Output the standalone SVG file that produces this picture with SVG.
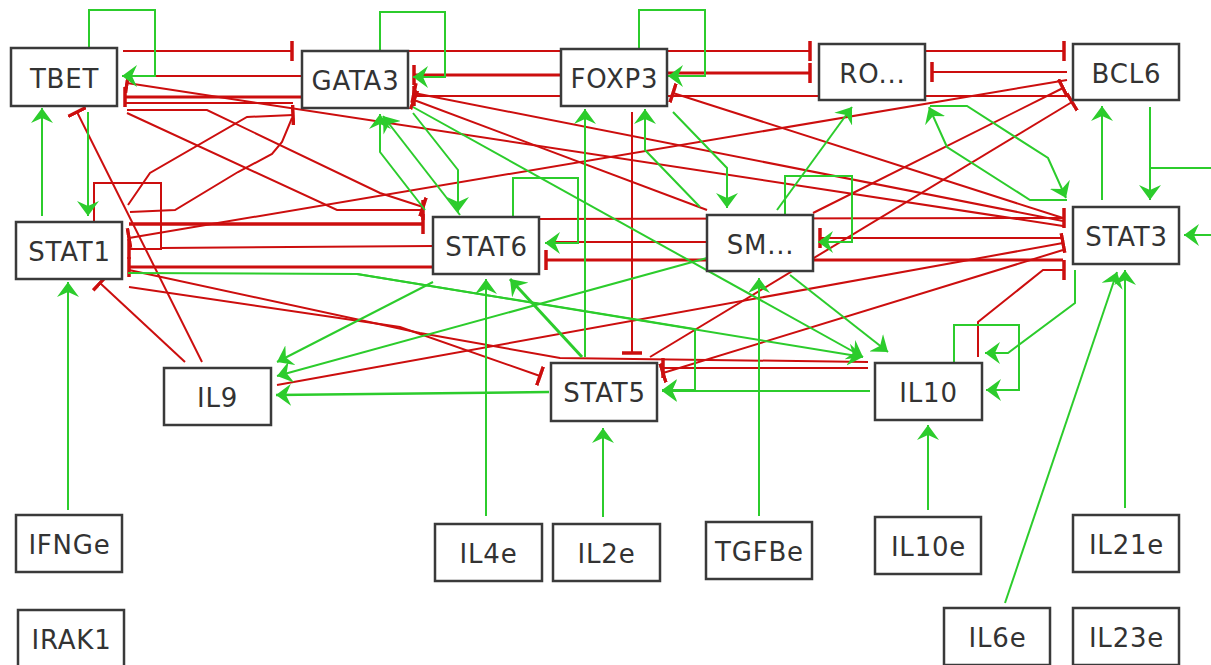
<svg xmlns="http://www.w3.org/2000/svg" width="1211" height="665" viewBox="0 0 1211 665">
<style>
.r{fill:none;stroke:#cc0e0e;stroke-width:2}
.g{fill:none;stroke:#2ccc2c;stroke-width:2}
.n rect{fill:#fff;stroke:#3a3a3a;stroke-width:2.5}
.n text{font-family:"DejaVu Sans",sans-serif;font-size:26px;letter-spacing:0.8px;fill:#333;text-anchor:middle}
</style>
<defs>
<marker id="a" viewBox="0 0 15 22" refX="15" refY="11" markerWidth="15" markerHeight="22" markerUnits="userSpaceOnUse" orient="auto">
<path d="M0,0 L15,11 L0,22 L5,11 z" fill="#2ccc2c"/>
</marker>
<marker id="t" viewBox="0 0 4 20" refX="2" refY="10" markerWidth="4" markerHeight="20" markerUnits="userSpaceOnUse" orient="auto">
<path d="M2,0 V20" stroke="#cc0e0e" stroke-width="3.5"/>
</marker>
</defs>
<rect width="1211" height="665" fill="#fff"/>
<g id="connectors">
<polyline class="r" points="123,51 292,51" marker-end="url(#t)"/>
<polyline class="r" points="408,51 561,51"/>
<polyline class="r" points="667,51 810,51" marker-end="url(#t)"/>
<polyline class="r" points="925,51 1064,51" marker-end="url(#t)"/>
<polyline class="r" points="561,75 414,75" marker-end="url(#t)" style="stroke-width:3"/>
<polyline class="r" points="302,76 125,76"/>
<polyline class="r" points="667,73 810,73" marker-end="url(#t)" style="stroke-width:3"/>
<polyline class="r" points="1067,72 932,72" marker-end="url(#t)"/>
<polyline class="r" points="1067,96 414,96" marker-end="url(#t)"/>
<polyline class="r" points="302,97 125,97" marker-end="url(#t)" style="stroke-width:3"/>
<polyline class="r" points="125,103 293,103"/>
<polyline class="r" points="128,205 150,173 247,117 293,115" marker-end="url(#t)"/>
<polyline class="r" points="130,212 175,210 238,172 272,154 282,142 292,118"/>
<polyline class="r" points="127,110 207,110 380,193 423,207" marker-end="url(#t)"/>
<polyline class="r" points="127,113 337,210 423,210" marker-end="url(#t)"/>
<polyline class="r" points="94,222 94,183 161,183 161,249 129,249" marker-end="url(#t)"/>
<polyline class="r" points="129,224 423,224" marker-end="url(#t)" style="stroke-width:3.5"/>
<polyline class="r" points="161,248 433,246"/>
<polyline class="r" points="1067,80 129,238" marker-end="url(#t)"/>
<polyline class="r" points="433,267 129,267" marker-end="url(#t)" style="stroke-width:3"/>
<polyline class="r" points="129,287 400,327 540,376" marker-end="url(#t)"/>
<polyline class="r" points="868,362 560,358 420,333 129,270"/>
<polyline class="r" points="868,368 663,368" marker-end="url(#t)"/>
<polyline class="r" points="185,362 100,283" marker-end="url(#t)"/>
<polyline class="r" points="202,362 77,112" marker-end="url(#t)"/>
<polyline class="r" points="277,385 1063,243" marker-end="url(#t)"/>
<polyline class="r" points="632,112 632,353" marker-end="url(#t)"/>
<polyline class="r" points="650,357 1072,102" marker-end="url(#t)"/>
<polyline class="r" points="813,213 1063,88" marker-end="url(#t)"/>
<polyline class="r" points="1063,218 673,93" marker-end="url(#t)"/>
<polyline class="r" points="1063,221 414,93" marker-end="url(#t)"/>
<polyline class="r" points="1063,226 127,83" marker-end="url(#t)"/>
<polyline class="r" points="707,210 414,100" marker-end="url(#t)"/>
<polyline class="r" points="539,219 1064,218" marker-end="url(#t)"/>
<polyline class="r" points="1063,238 820,238" marker-end="url(#t)"/>
<polyline class="r" points="1063,260 546,260" marker-end="url(#t)" style="stroke-width:3"/>
<polyline class="r" points="707,242 547,242"/>
<polyline class="r" points="1063,250 663,373" marker-end="url(#t)"/>
<polyline class="r" points="978,357 978,322 1043,270 1064,270" marker-end="url(#t)"/>
<polyline class="g" points="89,48 89,10 155,10 155,76 122,76" marker-end="url(#a)"/>
<polyline class="g" points="380,51 380,12 445,12 445,77 413,77" marker-end="url(#a)"/>
<polyline class="g" points="639,49 639,10 705,10 705,76 668,76" marker-end="url(#a)"/>
<polyline class="g" points="88,112 88,216" marker-end="url(#a)"/>
<polyline class="g" points="42,216 42,108" marker-end="url(#a)"/>
<polyline class="g" points="68,510 68,282" marker-end="url(#a)"/>
<polyline class="g" points="460,215 383,116" marker-end="url(#a)"/>
<polyline class="g" points="425,210 380,152 380,114" marker-end="url(#a)"/>
<polyline class="g" points="413,113 458,170 458,212" marker-end="url(#a)"/>
<polyline class="g" points="413,107 863,357" marker-end="url(#a)"/>
<polyline class="g" points="513,217 513,178 578,178 578,243 545,243" marker-end="url(#a)"/>
<polyline class="g" points="582,357 510,279" marker-end="url(#a)" style="stroke-width:3"/>
<polyline class="g" points="486,516 486,279" marker-end="url(#a)"/>
<polyline class="g" points="585,357 585,109" marker-end="url(#a)"/>
<polyline class="g" points="700,207 645,150 645,109" marker-end="url(#a)"/>
<polyline class="g" points="673,112 727,168 727,208" marker-end="url(#a)"/>
<polyline class="g" points="777,210 852,107" marker-end="url(#a)"/>
<polyline class="g" points="785,215 785,176 852,176 852,242 818,242" marker-end="url(#a)"/>
<polyline class="g" points="759,516 759,278" marker-end="url(#a)"/>
<polyline class="g" points="433,282 277,362" marker-end="url(#a)"/>
<polyline class="g" points="707,258 277,376" marker-end="url(#a)"/>
<polyline class="g" points="549,392 276,395" marker-end="url(#a)" style="stroke-width:2.5"/>
<polyline class="g" points="128,273 357,274 863,357" marker-end="url(#a)"/>
<polyline class="g" points="357,274 695,329 695,390 662,390" marker-end="url(#a)"/>
<polyline class="g" points="870,391 662,391" marker-end="url(#a)"/>
<polyline class="g" points="790,275 888,352" marker-end="url(#a)"/>
<polyline class="g" points="603,517 603,428" marker-end="url(#a)"/>
<polyline class="g" points="928,510 928,425" marker-end="url(#a)"/>
<polyline class="g" points="1125,508 1125,270" marker-end="url(#a)"/>
<polyline class="g" points="1005,603 1117,272" marker-end="url(#a)"/>
<polyline class="g" points="1102,200 1102,106" marker-end="url(#a)"/>
<polyline class="g" points="1150,107 1150,200" marker-end="url(#a)"/>
<polyline class="g" points="1211,168 1150,168"/>
<polyline class="g" points="1211,235 1184,235" marker-end="url(#a)"/>
<polyline class="g" points="1075,270 1075,303 1008,353 985,353" marker-end="url(#a)"/>
<polyline class="g" points="954,362 954,325 1019,325 1019,390 986,390" marker-end="url(#a)"/>
<polyline class="g" points="1067,200 1030,200 947,147 929,107" marker-end="url(#a)"/>
<polyline class="g" points="930,106 967,106 1048,158 1066,198" marker-end="url(#a)"/>
</g>
<g id="TBET" class="n"><rect x="11" y="48" width="106" height="58"/><text x="64.5" y="88">TBET</text></g>
<g id="GATA3" class="n"><rect x="302" y="51" width="106" height="57"/><text x="355.5" y="90">GATA3</text></g>
<g id="FOXP3" class="n"><rect x="561" y="49" width="106" height="57"/><text x="614.5" y="88">FOXP3</text></g>
<g id="RO" class="n"><rect x="819" y="44" width="106" height="56"/><text x="872.5" y="83">RO...</text></g>
<g id="BCL6" class="n"><rect x="1073" y="44" width="106" height="56"/><text x="1126.5" y="83">BCL6</text></g>
<g id="STAT1" class="n"><rect x="16" y="222" width="106" height="57"/><text x="69.5" y="261">STAT1</text></g>
<g id="STAT6" class="n"><rect x="433" y="217" width="106" height="57"/><text x="486.5" y="256">STAT6</text></g>
<g id="SM" class="n"><rect x="707" y="215" width="106" height="56"/><text x="760.5" y="254">SM...</text></g>
<g id="STAT3" class="n"><rect x="1073" y="207" width="106" height="57"/><text x="1126.5" y="246">STAT3</text></g>
<g id="IL9" class="n"><rect x="164" y="368" width="107" height="57"/><text x="217.5" y="407">IL9</text></g>
<g id="STAT5" class="n"><rect x="551" y="363" width="106" height="58"/><text x="604.5" y="402">STAT5</text></g>
<g id="IL10" class="n"><rect x="875" y="363" width="107" height="57"/><text x="928.5" y="402">IL10</text></g>
<g id="IFNGe" class="n"><rect x="16" y="515" width="106" height="57"/><text x="69.5" y="554">IFNGe</text></g>
<g id="IRAK1" class="n"><rect x="18" y="610" width="106" height="57"/><text x="71.5" y="649">IRAK1</text></g>
<g id="IL4e" class="n"><rect x="435" y="524" width="107" height="57"/><text x="488.5" y="563">IL4e</text></g>
<g id="IL2e" class="n"><rect x="553" y="524" width="107" height="57"/><text x="606.5" y="563">IL2e</text></g>
<g id="TGFBe" class="n"><rect x="706" y="522" width="106" height="57"/><text x="759.5" y="561">TGFBe</text></g>
<g id="IL10e" class="n"><rect x="875" y="517" width="106" height="57"/><text x="928.5" y="556">IL10e</text></g>
<g id="IL21e" class="n"><rect x="1073" y="515" width="106" height="57"/><text x="1126.5" y="554">IL21e</text></g>
<g id="IL6e" class="n"><rect x="944" y="608" width="106" height="57"/><text x="997.5" y="647">IL6e</text></g>
<g id="IL23e" class="n"><rect x="1073" y="608" width="106" height="57"/><text x="1126.5" y="647">IL23e</text></g>
</svg>
